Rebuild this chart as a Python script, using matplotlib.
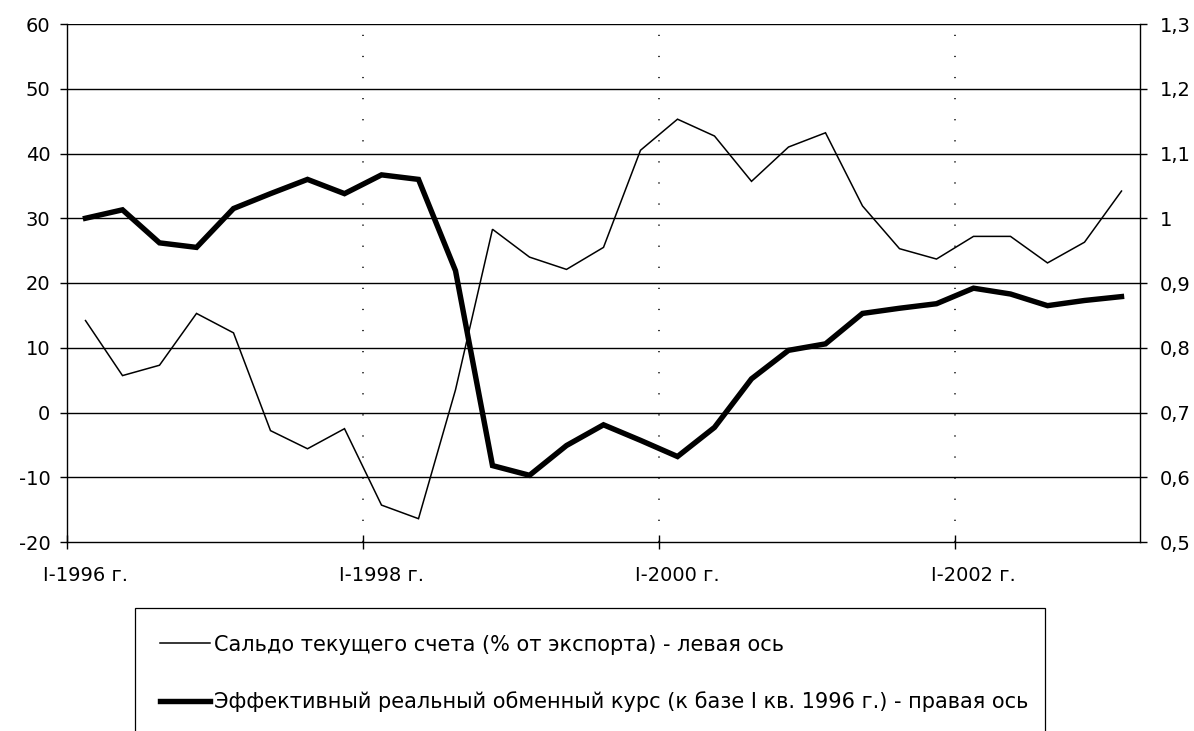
import matplotlib
matplotlib.use("Agg")
import matplotlib.pyplot as plt
from matplotlib.ticker import FuncFormatter
from matplotlib.patches import Rectangle
import numpy as np

plt.rcParams['font.family'] = ['DejaVu Sans']

# Quarterly periods I-1996 ... I-2003
quarters = [f"{q}-{y}" for y in range(1996, 2004) for q in ("I", "II", "III", "IV")][:29]

# Current account balance, % of exports (left axis)
current_account = [14.2, 5.7, 7.3, 15.3, 12.3, -2.8, -5.6, -2.5,
                   -14.3, -16.4, 3.5, 28.3, 24.0, 22.1, 25.5, 40.5,
                   45.3, 42.7, 35.7, 41.0, 43.2, 31.9, 25.3, 23.7,
                   27.2, 27.2, 23.1, 26.3, 34.2]

# Real effective exchange rate, I q. 1996 = 1 (right axis)
reer = [1.000, 1.013, 0.962, 0.955, 1.015, 1.038, 1.060, 1.038,
        1.067, 1.060, 0.919, 0.618, 0.603, 0.649, 0.681, 0.657,
        0.632, 0.677, 0.752, 0.796, 0.806, 0.853, 0.861, 0.868,
        0.892, 0.883, 0.865, 0.873, 0.879]

tick_labels = ["I-1996 г.", "I-1998 г.", "I-2000 г.", "I-2002 г."]
tick_quarters = ["I-1996", "I-1998", "I-2000", "I-2002"]

label_ca = "Сальдо текущего счета (% от экспорта) - левая ось"
label_reer = "Эффективный реальный обменный курс (к базе I кв. 1996 г.) - правая ось"

W, H = 1194, 731
fig = plt.figure(figsize=(W / 100, H / 100), dpi=100)
ax = fig.add_axes([67 / W, 1 - 542 / H, (1140 - 67) / W, (542 - 24) / H])
ax2 = ax.twinx()

x = np.arange(len(quarters))
l1, = ax.plot(x, current_account, color='black', lw=1.1, solid_joinstyle='miter')
l2, = ax2.plot(x, reer, color='black', lw=3.9, solid_joinstyle='miter')

ax.set_xlim(-0.5, len(quarters) - 0.5)
ax.set_ylim(-20, 60)
ax2.set_ylim(0.5, 1.3)
ax.set_yticks(np.arange(-20, 61, 10))
ax2.set_yticks(np.arange(0.5, 1.31, 0.1))

ax.yaxis.set_major_formatter(FuncFormatter(lambda v, p: f"{v:.0f}"))
def rfmt(v, p):
    s = f"{v:.1f}"
    if s.endswith(".0"):
        s = s[:-2]
    return s.replace(".", ",")
ax2.yaxis.set_major_formatter(FuncFormatter(rfmt))

label_pos = [quarters.index(q) for q in tick_quarters]
boundary_pos = [p - 0.5 for p in label_pos]
ax.set_xticks(boundary_pos)
ax.set_xticklabels([""] * len(boundary_pos))
ax.set_xticks(label_pos, minor=True)
ax.set_xticklabels(tick_labels, minor=True)

# grid
for yv in np.arange(-10, 61, 10):
    ax.axhline(yv, color='black', lw=1.0, zorder=0)
for xv in boundary_pos[1:]:
    ax.axvline(xv, color='black', lw=1.1, ls=(0, (0.8, 13)), zorder=0)

for a in (ax, ax2):
    a.spines['top'].set_visible(False)
    for s in a.spines.values():
        s.set_linewidth(1.0)
ax.spines['right'].set_visible(False)
ax2.spines['left'].set_visible(False)
ax2.spines['bottom'].set_visible(False)

ax.tick_params(axis='y', direction='out', length=5, width=1, pad=7, labelsize=14)
ax2.tick_params(axis='y', direction='out', length=5, width=1, pad=9, labelsize=14)
ax.tick_params(axis='x', which='major', direction='inout', length=10, width=1)
ax.tick_params(axis='x', which='minor', length=0, pad=17, labelsize=14)

# legend box (extends past the bottom edge of the image)
fig.patches.append(Rectangle((135 / W, -0.1), (1045 - 135) / W, (1 - 608 / H) + 0.1,
                             transform=fig.transFigure, fill=False,
                             edgecolor='black', lw=0.9))
fig.legend([l1, l2], [label_ca, label_reer],
           loc='upper left',
           bbox_to_anchor=(135 / W, 1 - 617 / H, (1045 - 135) / W, 0.01),
           mode='expand', fontsize=15, frameon=False,
           borderpad=1.2, labelspacing=1.75,
           handlelength=2.4, handletextpad=0.2, borderaxespad=0)

fig.savefig("out.png", dpi=100)
